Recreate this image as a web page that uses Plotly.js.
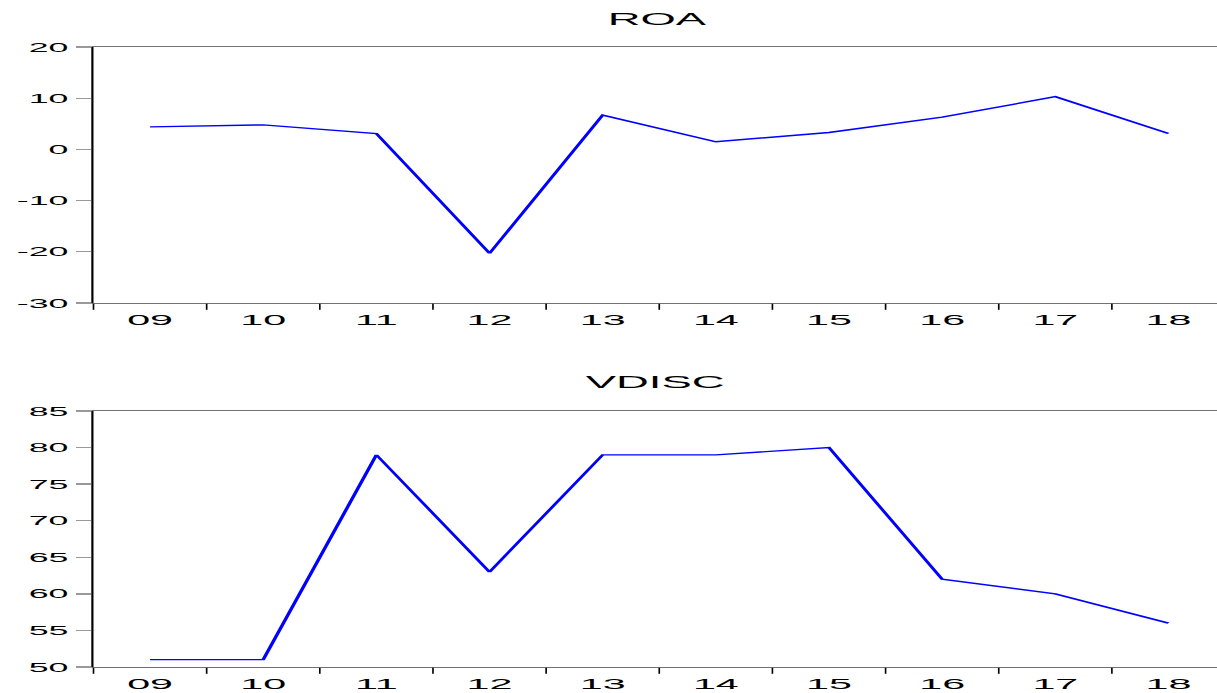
<!DOCTYPE html>
<html>
<head>
<meta charset="utf-8">
<script src="https://cdn.plot.ly/plotly-3.0.1.min.js"></script>
<style>
html,body{margin:0;padding:0;background:#fff;overflow:hidden;}
#wrap{width:1217px;height:693px;overflow:hidden;position:relative;}
#plot{position:absolute;left:0;top:0;transform-origin:0 0;}
</style>
</head>
<body>
<div id="wrap"><div id="plot"></div></div>
<script>
// Data
var years = ['09','10','11','12','13','14','15','16','17','18'];
var roa = [4.4, 4.8, 3.1, -20.3, 6.7, 1.5, 3.3, 6.3, 10.3, 3.1];
var vdisc = [51, 51, 79, 63, 79, 79, 80, 62, 60, 56];
var roaTicks = [-30, -20, -10, 0, 10, 20];
var roaTickText = ['-30', '-20', '-10', '0', '10', '20'];
var vdiscTicks = [50, 55, 60, 65, 70, 75, 80, 85];
var vdiscTickText = ['50', '55', '60', '65', '70', '75', '80', '85'];
var titles = ['ROA', 'VDISC'];

// Horizontal stretch of the original graphic
var S = 2.75;
var W = 1217 / S, H = 693;
var el = document.getElementById('plot');
el.style.width = W + 'px';
el.style.height = H + 'px';
el.style.transform = 'scaleX(' + S + ')';

var FONT = 'Liberation Sans, Arial, sans-serif';
var lineStyle = {color: '#0000ff', width: 1.35};

var traces = [
  {x: years, y: roa, type: 'scatter', mode: 'lines', line: lineStyle, xaxis: 'x', yaxis: 'y', hoverinfo: 'none'},
  {x: years, y: vdisc, type: 'scatter', mode: 'lines', line: lineStyle, xaxis: 'x2', yaxis: 'y2', hoverinfo: 'none'}
];

function xax(anchor, domain) {
  return {
    type: 'category', anchor: anchor, domain: domain,
    range: [-0.5, 9.44], tickson: 'boundaries',
    ticks: 'outside', ticklen: 6, tickwidth: 0.6, tickcolor: '#000',
    showline: true, linecolor: '#444', linewidth: 0.8, mirror: true,
    showgrid: false, zeroline: false, fixedrange: true,
    ticklabelstandoff: 3,
    tickfont: {family: FONT, size: 15, color: '#000'}
  };
}
function yax(anchor, domain, range, tv, tt) {
  return {
    anchor: anchor, domain: domain, range: range,
    tickmode: 'array', tickvals: tv, ticktext: tt,
    ticks: 'outside', ticklen: 5.7, tickwidth: 1.3, tickcolor: '#999',
    showline: true, linecolor: '#000', linewidth: 0.8,
    showgrid: false, zeroline: false, fixedrange: true,
    ticklabelstandoff: 0,
    tickfont: {family: FONT, size: 13, color: '#000'}
  };
}

var layout = {
  width: W, height: H,
  margin: {l: 93 / S, r: 0, t: 0, b: 0, pad: 0},
  paper_bgcolor: '#fff', plot_bgcolor: '#fff',
  showlegend: false,
  xaxis: xax('y', [0, 1]),
  yaxis: yax('x', [1 - 303 / 693, 1 - 47 / 693], [-30, 20], roaTicks, roaTickText),
  xaxis2: xax('y2', [0, 1]),
  yaxis2: yax('x2', [1 - 667 / 693, 1 - 411 / 693], [50, 85], vdiscTicks, vdiscTickText),
  annotations: [
    {text: titles[0], xref: 'paper', yref: 'paper', x: 0.5, y: 1 - 19 / 693, xanchor: 'center', yanchor: 'middle', showarrow: false, font: {family: FONT, size: 16.5, color: '#000'}},
    {text: titles[1], xref: 'paper', yref: 'paper', x: 0.5, y: 1 - 382 / 693, xanchor: 'center', yanchor: 'middle', showarrow: false, font: {family: FONT, size: 16.5, color: '#000'}}
  ]
};

Plotly.newPlot(el, traces, layout, {displayModeBar: false, staticPlot: true});
</script>
</body>
</html>
